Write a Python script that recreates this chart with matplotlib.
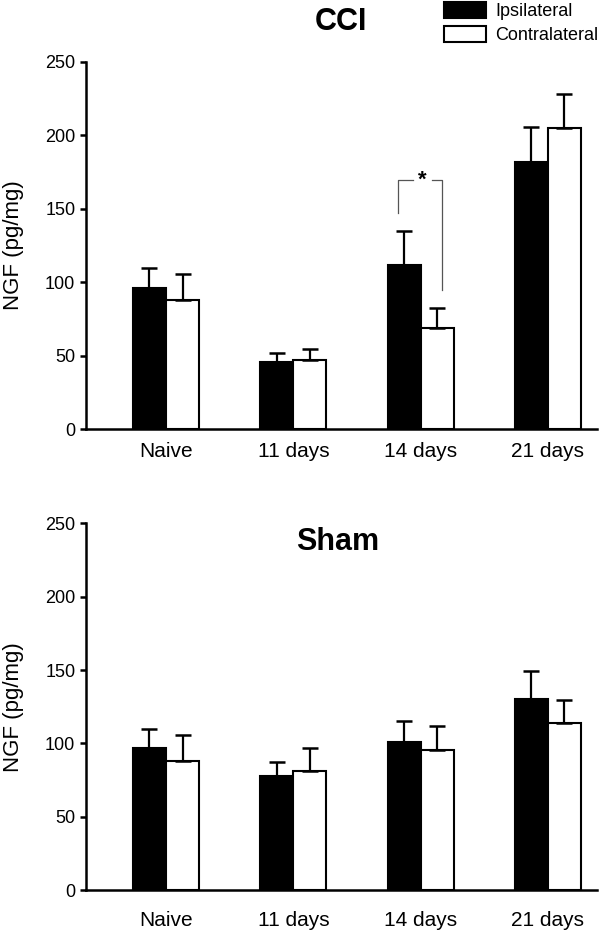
import matplotlib
matplotlib.use("Agg")
import matplotlib.pyplot as plt
import numpy as np

plt.rcParams['font.family'] = ['Liberation Sans', 'DejaVu Sans']

groups = ['Naive', '11 days', '14 days', '21 days']
series_names = ['Ipsilateral', 'Contralateral']

# CCI panel (pg/mg)
cci_ipsi = [96, 45.5, 111.5, 181.5]
cci_ipsi_err = [13.4, 6.1, 23.5, 24.4]
cci_contra = [88.2, 47.0, 69.2, 205.2]
cci_contra_err = [17.3, 7.5, 13.0, 22.7]

# Sham panel
sham_ipsi = [96.5, 77.6, 100.6, 130.1]
sham_ipsi_err = [13.0, 9.4, 14.8, 19.3]
sham_contra = [88.3, 81.3, 95.2, 114.0]
sham_contra_err = [17.5, 15.3, 16.6, 15.5]

# significance bracket, 14 days group
sig_group = 2
sig_top = 169.5
sig_left_bottom = 147
sig_right_bottom = 95

ticks_y = [0, 50, 100, 150, 200, 250]

width = 0.26
x = np.arange(len(groups))


def draw_panel(ax, ipsi, ipsi_err, contra, contra_err, labelpad):
    b1 = ax.bar(x - width / 2, ipsi, width, color='black', edgecolor='black',
                linewidth=1.5, label=series_names[0], zorder=2)
    b2 = ax.bar(x + width / 2, contra, width, color='white', edgecolor='black',
                linewidth=1.5, label=series_names[1], zorder=2)
    for pos, vals, err in [(x - width / 2, ipsi, ipsi_err), (x + width / 2, contra, contra_err)]:
        ax.errorbar(pos, vals, yerr=[np.zeros(len(err)), err], fmt='none',
                    ecolor='black', elinewidth=1.6, capsize=6, capthick=1.8, zorder=3)
    ax.set_xlim(-0.631, 3.383)
    ax.set_ylim(0, 250)
    ax.set_yticks(ticks_y)
    ax.set_xticks(x)
    ax.set_xticklabels(groups, fontsize=15)
    ax.tick_params(axis='x', length=0, pad=labelpad)
    ax.tick_params(axis='y', length=4.5, width=1.8, labelsize=13, pad=3)
    ax.spines[['top', 'right']].set_visible(False)
    ax.spines[['left', 'bottom']].set_linewidth(1.8)
    ax.set_ylabel('NGF (pg/mg)', fontsize=16, labelpad=15)
    return b1, b2


fig = plt.figure(figsize=(6, 9.31), dpi=100)
ax1 = fig.add_axes([0.1428, 0.5389, 0.8517, 0.3948])
ax2 = fig.add_axes([0.1428, 0.0440, 0.8517, 0.3939])

b1, b2 = draw_panel(ax1, cci_ipsi, cci_ipsi_err, cci_contra, cci_contra_err, 9)
draw_panel(ax2, sham_ipsi, sham_ipsi_err, sham_contra, sham_contra_err, 15)

ax1.text(0.5, 1.108, 'CCI', transform=ax1.transAxes, ha='center', va='center',
         fontsize=22, fontweight='bold')
ax2.text(0.4937, 0.95, 'Sham', transform=ax2.transAxes, ha='center', va='center',
         fontsize=22, fontweight='bold')

# bracket with star
xl = x[sig_group] - 0.18
xr = x[sig_group] + 0.17
gray = '#555555'
ax1.plot([xl, xl, x[sig_group] - 0.057], [sig_left_bottom, sig_top, sig_top],
         color=gray, linewidth=0.9, zorder=4)
ax1.plot([x[sig_group] + 0.087, xr, xr], [sig_top, sig_top, sig_right_bottom],
         color=gray, linewidth=0.9, zorder=4)
ax1.text(x[sig_group] + 0.015, sig_top, '*', ha='center', va='center',
         fontsize=16, fontweight='bold')

fig.legend(handles=[b1, b2], labels=series_names, loc='upper left',
           bbox_to_anchor=(444 / 600, 1 - 1.5 / 931), frameon=False, fontsize=13,
           handlelength=2.35, handleheight=1.0, handletextpad=0.5,
           labelspacing=0.33, borderpad=0, borderaxespad=0)

fig.savefig('out.png', dpi=100)
